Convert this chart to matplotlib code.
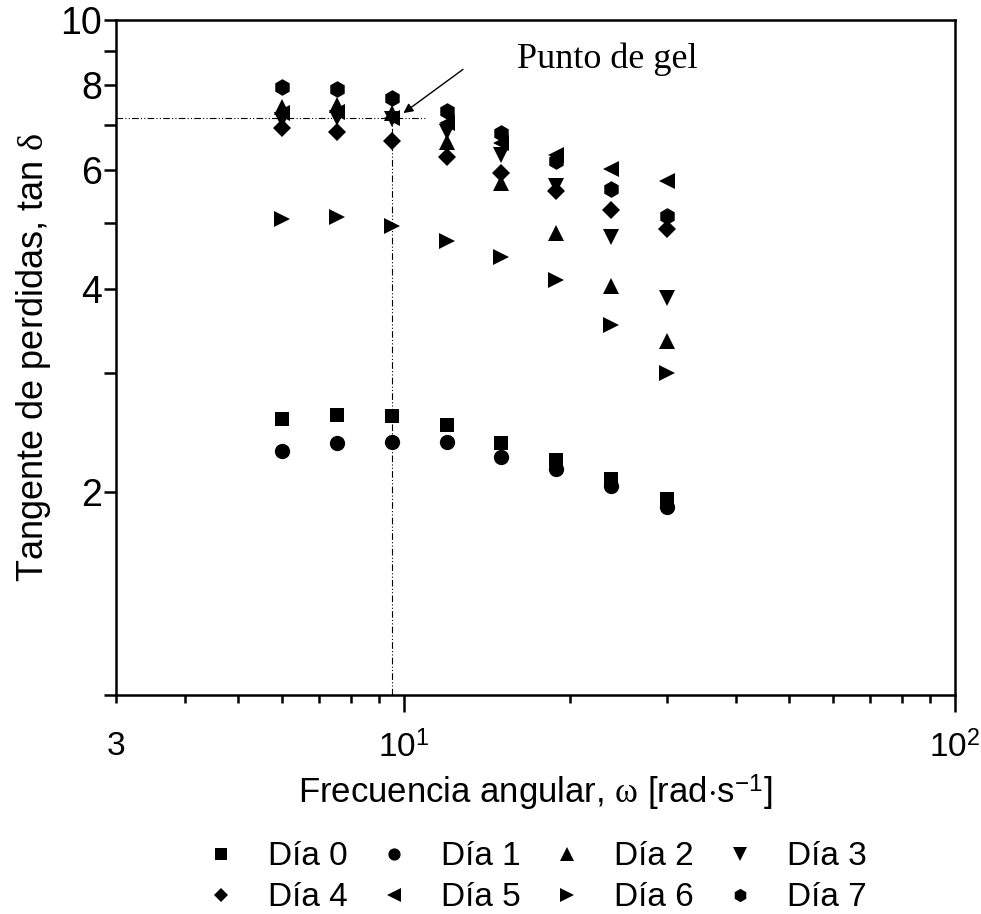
#-----------------------------------------------------------------#
# Tangente de perdidas vs frecuencia angular
#-----------------------------------------------------------------#
import matplotlib
matplotlib.use('Agg')
import matplotlib.pyplot as plt
from matplotlib.ticker import FixedLocator, FixedFormatter, NullFormatter

plt.rcParams['font.family'] = ['Liberation Sans', 'DejaVu Sans']
plt.rcParams['mathtext.fontset'] = 'custom'
plt.rcParams['mathtext.rm'] = 'Liberation Sans'
plt.rcParams['mathtext.it'] = 'Liberation Serif'

#-----------------------------------------------------------------#
# Datos
frecuencia = [6.0, 7.55, 9.5, 11.95, 15.0, 18.9, 23.8, 30.0]

dia_0 = [2.56, 2.60, 2.59, 2.51, 2.36, 2.23, 2.09, 1.95]
dia_1 = [2.30, 2.36, 2.37, 2.37, 2.25, 2.16, 2.04, 1.90]
dia_2 = [7.44, 7.48, 7.27, 6.60, 5.73, 4.83, 4.03, 3.34]
dia_3 = [7.10, 7.15, 7.13, 6.83, 6.31, 5.67, 4.77, 3.88]
dia_4 = [6.91, 6.83, 6.62, 6.27, 5.94, 5.59, 5.23, 4.91]
dia_5 = [7.27, 7.31, 7.17, 7.03, 6.58, 6.31, 6.02, 5.78]
dia_6 = [5.07, 5.10, 4.96, 4.71, 4.46, 4.12, 3.53, 3.00]
dia_7 = [7.95, 7.89, 7.67, 7.33, 6.81, 6.19, 5.62, 5.12]

etiquetas = ['Día 0', 'Día 1', 'Día 2', 'Día 3', 'Día 4', 'Día 5', 'Día 6', 'Día 7']
marcadores = ['s', 'o', '^', 'v', 'D', '<', '>', 'h']
tamanos = [10, 11, 12, 12, 9, 12, 12, 12]

# punto de gel
gel_x = 9.5
gel_y = 7.16

#-----------------------------------------------------------------#
fig = plt.figure(figsize=(9.81, 9.14), dpi=100)
ax = fig.add_axes([0.118, 0.2396, 0.8555, 0.7385])

series = [dia_0, dia_1, dia_2, dia_3, dia_4, dia_5, dia_6, dia_7]
lineas = []
for valores, m, ms, lab in zip(series, marcadores, tamanos, etiquetas):
    l, = ax.plot(frecuencia, valores, linestyle='none', marker=m, markersize=ms,
                 color='black', markeredgewidth=0, label=lab)
    lineas.append(l)

ax.set_xscale('log')
ax.set_yscale('log')
ax.set_xlim(3, 100)
ax.set_ylim(1, 10)

# lineas del punto de gel
estilo = (0, (6, 2, 1, 2, 1, 2))
ax.plot([3, 11.0], [gel_y, gel_y], color='black', lw=0.8, linestyle=estilo)
ax.plot([gel_x, gel_x], [1, gel_y], color='black', lw=0.8, linestyle=estilo)

ax.annotate('', xy=(9.98, 7.28), xytext=(12.8, 8.45),
            arrowprops=dict(arrowstyle='-|>', color='black', lw=1,
                            mutation_scale=14, shrinkA=0, shrinkB=0))
ax.text(23.4, 8.75, 'Punto de gel', family='Liberation Serif', fontsize=26,
        ha='center', va='center')

# ejes
ax.xaxis.set_major_locator(FixedLocator([10, 100]))
ax.xaxis.set_major_formatter(FixedFormatter([r'$10^{1}$', r'$10^{2}$']))
menores_x = [3, 4, 5, 6, 7, 8, 9, 20, 30, 40, 50, 60, 70, 80, 90]
ax.xaxis.set_minor_locator(FixedLocator(menores_x))
ax.xaxis.set_minor_formatter(FixedFormatter(['3'] + [''] * 14))

ax.yaxis.set_major_locator(FixedLocator([1, 2, 3, 4, 5, 6, 7, 8, 9, 10]))
ax.yaxis.set_major_formatter(FixedFormatter(['', '2', '', '4', '', '6', '', '8', '', '10']))
ax.yaxis.set_minor_formatter(NullFormatter())
ax.yaxis.set_minor_locator(FixedLocator([]))

ax.tick_params(axis='y', which='major', direction='out', length=9, width=1.8,
               labelsize=27, pad=1)
ax.tick_params(axis='x', which='major', direction='out', length=12, width=1.8,
               labelsize=24, pad=14)
ax.tick_params(axis='x', which='minor', direction='out', length=6, width=1.8,
               labelsize=24, pad=20)
for s in ax.spines.values():
    s.set_linewidth(1.8)

ax.set_xlabel(r'Frecuencia angular, $\omega$ [rad$\cdot$s$^{-1}$]', fontsize=25, labelpad=6)
ax.set_ylabel(r'Tangente de perdidas, tan $\delta$', fontsize=26, labelpad=5)

# leyenda por filas: Dia 0-3 arriba, Dia 4-7 abajo
orden = [0, 4, 1, 5, 2, 6, 3, 7]
ax.legend([lineas[i] for i in orden], [etiquetas[i] for i in orden],
          loc='upper center', bbox_to_anchor=(0.5, -0.197), borderaxespad=0,
          ncol=4, frameon=False, fontsize=24, handletextpad=0.9,
          columnspacing=0.9, handlelength=1.0, labelspacing=0.3, markerscale=0.8)

fig.savefig('out.png', dpi=100)
